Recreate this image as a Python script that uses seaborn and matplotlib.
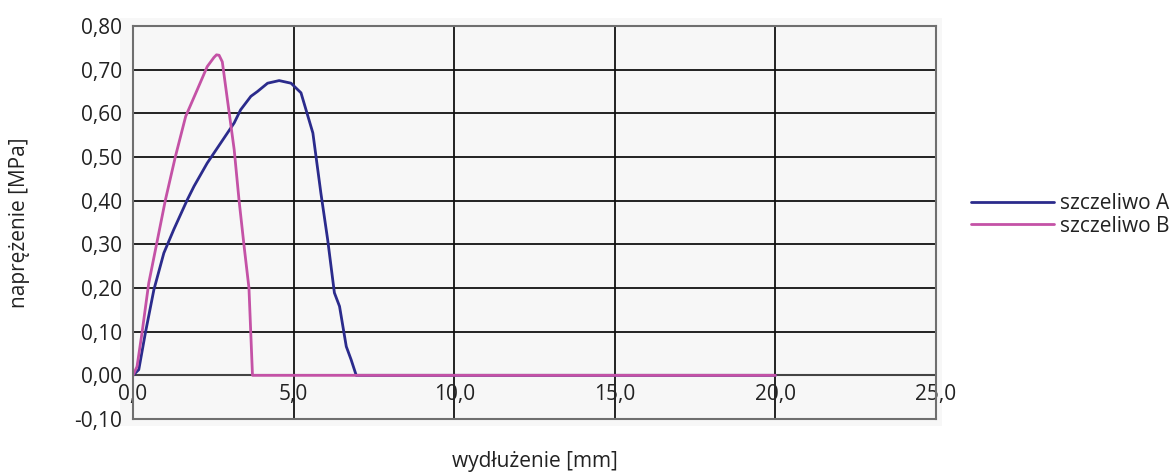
import numpy as np
import pandas as pd
import matplotlib
matplotlib.use("Agg")
import matplotlib.pyplot as plt
import matplotlib.ticker as mticker
from matplotlib.patches import Rectangle
import seaborn as sns

# wydłużenie [mm] i naprężenie [MPa]
x_a = [0.0, 0.18, 0.385, 0.65, 0.96, 1.27, 1.69, 1.9, 2.31, 2.73, 3.15, 3.35, 3.67,
       3.875, 4.19, 4.55, 4.92, 5.23, 5.6, 5.85, 6.06, 6.27, 6.43, 6.64, 6.79, 6.95, 20.0]
y_a = [0.0, 0.013, 0.097, 0.196, 0.28, 0.334, 0.402, 0.433, 0.486, 0.532, 0.578, 0.608, 0.639,
       0.65, 0.669, 0.675, 0.669, 0.647, 0.555, 0.417, 0.311, 0.189, 0.158, 0.066, 0.036, 0.0, 0.0]

x_b = [0.0, 0.125, 0.28, 0.49, 0.70, 1.01, 1.32, 1.64, 2.0, 2.31, 2.52, 2.6, 2.68, 2.78,
       2.94, 3.15, 3.30, 3.46, 3.61, 3.72, 20.0]
y_b = [0.0, 0.02, 0.097, 0.211, 0.288, 0.402, 0.501, 0.593, 0.654, 0.707, 0.728, 0.734, 0.733, 0.718,
       0.631, 0.517, 0.402, 0.295, 0.2, 0.0, 0.0]

series = ["szczeliwo A", "szczeliwo B"]
colors = ["#2b2b8c", "#c452a6"]

df = pd.concat([
    pd.DataFrame({"x": x_a, "y": y_a, "seria": series[0]}),
    pd.DataFrame({"x": x_b, "y": y_b, "seria": series[1]}),
])

sns.set_style("white")
plt.rcParams["font.family"] = ["Open Sans", "DejaVu Sans"]
fs = 15

fig = plt.figure(figsize=(11.76, 4.74), dpi=100)
ax = fig.add_axes([133 / 1176, 1 - 419 / 474, (936 - 133) / 1176, (419 - 26) / 474])

# szare tło obszaru wykresu
fig.patches.append(Rectangle((120 / 1176, 1 - 426 / 474), 822 / 1176, 408 / 474,
                             transform=fig.transFigure, facecolor="#f7f7f7",
                             edgecolor="none", zorder=-5))
ax.set_facecolor("#f7f7f7")

sns.lineplot(data=df, x="x", y="y", hue="seria", palette=colors, linewidth=2,
             sort=False, estimator=None, ax=ax, legend=False)

ax.set_xlim(0, 25)
ax.set_ylim(-0.10, 0.80)
ax.set_xticks(np.arange(0, 26, 5))
ax.set_yticks(np.arange(-0.10, 0.81, 0.10))
ax.xaxis.set_major_formatter(mticker.FuncFormatter(lambda v, p: f"{v:.1f}".replace(".", ",")))
ax.yaxis.set_major_formatter(mticker.FuncFormatter(lambda v, p: f"{v:.2f}".replace(".", ",")))

ax.grid(True, color="#111111", linewidth=1.3)
ax.set_axisbelow(True)
for s in ax.spines.values():
    s.set_color("#6f6f6f")
    s.set_linewidth(1.5)
ax.axhline(0, color="#444444", linewidth=1.5, zorder=1)

ax.tick_params(axis="both", direction="out", length=5, color="#6f6f6f",
               labelsize=fs, labelcolor="#222222")
ax.tick_params(axis="x", pad=-30)
ax.tick_params(axis="y", pad=3)

ax.set_xlabel("wydłużenie [mm]", fontsize=fs, color="#222222")
ax.xaxis.set_label_coords(0.5, -(462 - 419) / 393, transform=ax.transAxes)
ax.xaxis.label.set_va("center")
ax.set_ylabel("naprężenie [MPa]", fontsize=fs, color="#222222")
ax.yaxis.set_label_coords(-(133 - 20) / 803, 0.5, transform=ax.transAxes)
ax.yaxis.label.set_va("center")

handles = [plt.Line2D([], [], color=c, linewidth=2) for c in colors]
fig.legend(handles, series, loc="center left", bbox_to_anchor=(952 / 1176, 1 - 215 / 474),
           frameon=False, fontsize=fs, handlelength=4.0, handletextpad=0.3,
           labelspacing=0.05, labelcolor="#222222")

fig.savefig("out.png", dpi=100, facecolor="white")
